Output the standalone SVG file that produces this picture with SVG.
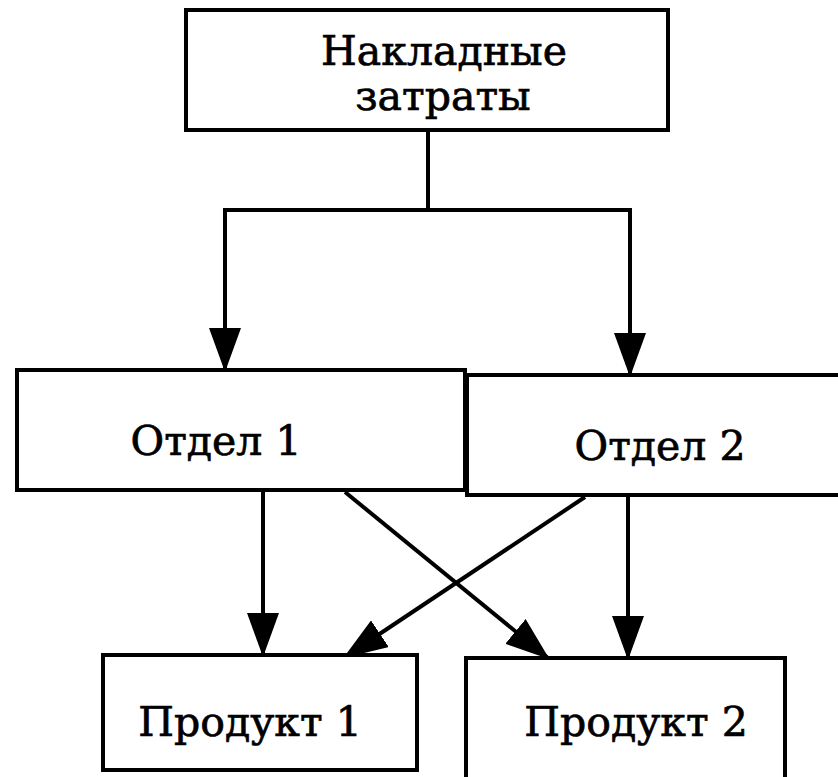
<svg xmlns="http://www.w3.org/2000/svg" width="838" height="777" viewBox="0 0 838 777">
<style>
.box{fill:#fff;stroke:#000;stroke-width:4}
.lbl{font-family:"DejaVu Serif","Liberation Serif",serif;font-size:41px;fill:#000;stroke:#000;stroke-width:0.7;text-anchor:middle}
.ln{fill:none;stroke:#000;stroke-width:4}
</style>
<defs>
<marker id="ahb" viewBox="0 0 44 32" refX="42" refY="16" markerWidth="44" markerHeight="32" markerUnits="userSpaceOnUse" orient="auto">
<path d="M0,0 L44,16 L0,32 Z" fill="#000"/>
</marker>
</defs>
<rect width="838" height="777" fill="#fff"/>
<g id="connectors">
<path class="ln" d="M428,130 L428,210 M225,210 L630,210"/>
<path class="ln" d="M225,208 L225,370" marker-end="url(#ahb)"/>
<path class="ln" d="M630,208 L630,375" marker-end="url(#ahb)"/>
<path class="ln" d="M263,490 L263,655" marker-end="url(#ahb)"/>
<path class="ln" d="M345,492 L548,658" marker-end="url(#ahb)"/>
<path class="ln" d="M585,497 L345,657" marker-end="url(#ahb)"/>
<path class="ln" d="M628,497 L628,658" marker-end="url(#ahb)"/>
</g>
<g id="overhead">
<rect class="box" x="186" y="10" width="482" height="120"/>
<text class="lbl" x="444" y="65">Накладные</text>
<text class="lbl" x="443" y="110">затраты</text>
</g>
<g id="dept1">
<rect class="box" x="17" y="370" width="448" height="120"/>
<text class="lbl" x="216" y="455">Отдел 1</text>
</g>
<g id="dept2">
<rect class="box" x="467" y="375" width="373" height="120"/>
<text class="lbl" x="660" y="460">Отдел 2</text>
</g>
<g id="prod1">
<rect class="box" x="103" y="655" width="314" height="115"/>
<text class="lbl" x="250" y="736">Продукт 1</text>
</g>
<g id="prod2">
<rect class="box" x="466" y="658" width="319" height="122"/>
<text class="lbl" x="636" y="736">Продукт 2</text>
</g>
</svg>
